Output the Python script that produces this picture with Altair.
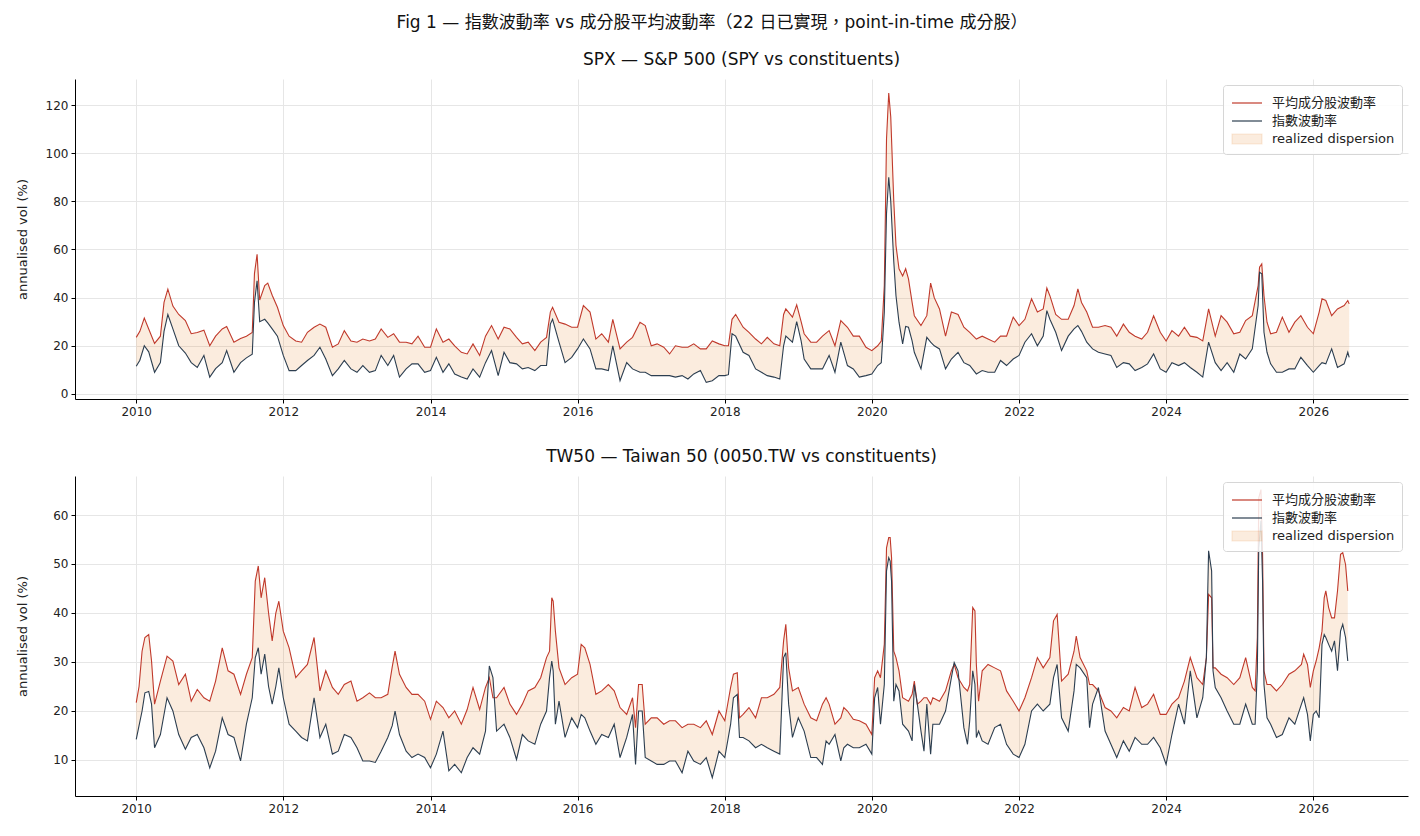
import altair as alt
import pandas as pd

FONT = "'DejaVu Sans', 'Noto Sans CJK TC', sans-serif"
RED = "#c0392b"
NAVY = "#2c3e50"
BAND = "rgba(230,126,34,0.15)"
BAND_EDGE = "rgba(230,126,34,0.22)"

AVG = "平均成分股波動率"
IDX = "指數波動率"
DISP = "realized dispersion"

MAIN_TITLE = "Fig 1 — 指數波動率 vs 成分股平均波動率（22 日已實現，point-in-time 成分股）"
SPX_TITLE = "SPX — S&P 500 (SPY vs constituents)"
TW_TITLE = "TW50 — Taiwan 50 (0050.TW vs constituents)"
Y_TITLE = "annualised vol (%)"

# ---------------- SPX (decimal year, avg constituent vol, index vol) ----------------
spx_t = (
    [2010.00, 2010.05, 2010.11, 2010.17, 2010.25, 2010.33, 2010.38, 2010.43, 2010.50, 2010.58, 2010.67, 2010.75, 2010.83, 2010.92]
    + [2011.00, 2011.08, 2011.17, 2011.23, 2011.33, 2011.42, 2011.50, 2011.58, 2011.61, 2011.645, 2011.68, 2011.75, 2011.79, 2011.85, 2011.92]
    + [2012.00, 2012.08, 2012.17, 2012.25, 2012.33, 2012.42, 2012.50, 2012.58, 2012.67, 2012.75, 2012.83, 2012.92]
    + [2013.00, 2013.08, 2013.17, 2013.25, 2013.33, 2013.42, 2013.50, 2013.58, 2013.67, 2013.75, 2013.83, 2013.92]
    + [2014.00, 2014.08, 2014.17, 2014.25, 2014.33, 2014.42, 2014.50, 2014.58, 2014.67, 2014.75, 2014.83, 2014.92]
    + [2015.00, 2015.08, 2015.17, 2015.25, 2015.33, 2015.42, 2015.50, 2015.58, 2015.63, 2015.66, 2015.75, 2015.83, 2015.92]
    + [2016.00, 2016.08, 2016.17, 2016.25, 2016.33, 2016.42, 2016.48, 2016.58, 2016.67, 2016.75, 2016.85, 2016.92]
    + [2017.00, 2017.08, 2017.17, 2017.25, 2017.33, 2017.42, 2017.50, 2017.58, 2017.67, 2017.75, 2017.83, 2017.92]
    + [2018.00, 2018.05, 2018.10, 2018.15, 2018.25, 2018.33, 2018.42, 2018.50, 2018.58, 2018.67, 2018.75, 2018.80, 2018.83, 2018.92, 2018.98]
    + [2019.04, 2019.08, 2019.17, 2019.25, 2019.33, 2019.42, 2019.50, 2019.58, 2019.67, 2019.75, 2019.83, 2019.92]
    + [2020.00, 2020.08, 2020.13, 2020.17, 2020.20, 2020.23, 2020.26, 2020.30, 2020.33, 2020.37, 2020.42, 2020.46, 2020.50, 2020.55, 2020.58, 2020.67, 2020.75, 2020.80, 2020.85, 2020.92]
    + [2021.00, 2021.08, 2021.17, 2021.25, 2021.33, 2021.42, 2021.50, 2021.58, 2021.67, 2021.75, 2021.83, 2021.92]
    + [2022.00, 2022.08, 2022.17, 2022.25, 2022.33, 2022.38, 2022.42, 2022.50, 2022.58, 2022.67, 2022.75, 2022.80, 2022.85, 2022.92]
    + [2023.00, 2023.08, 2023.17, 2023.25, 2023.33, 2023.42, 2023.50, 2023.58, 2023.67, 2023.75, 2023.83, 2023.92]
    + [2024.00, 2024.08, 2024.17, 2024.25, 2024.33, 2024.42, 2024.50, 2024.58, 2024.67, 2024.75, 2024.83, 2024.92]
    + [2025.00, 2025.08, 2025.17, 2025.25, 2025.27, 2025.30, 2025.33, 2025.37, 2025.42, 2025.50, 2025.58, 2025.67, 2025.75, 2025.83, 2025.92]
    + [2026.00, 2026.08, 2026.12, 2026.17, 2026.25, 2026.33, 2026.42, 2026.47, 2026.49]
)
spx_avg = (
    [23.5, 26.0, 31.5, 27.0, 21.0, 24.0, 38.0, 43.5, 36.5, 33.0, 30.5, 25.0, 25.5, 26.5]
    + [20.0, 24.0, 27.0, 28.0, 21.5, 23.0, 24.0, 25.5, 50.0, 58.0, 39.0, 45.0, 46.0, 41.0, 36.0]
    + [28.4, 24.0, 22.0, 21.5, 25.6, 27.7, 29.0, 27.7, 19.4, 20.8, 26.3, 22.0]
    + [21.5, 22.8, 22.0, 22.8, 27.0, 23.5, 25.0, 21.5, 21.5, 20.8, 24.0, 19.4]
    + [19.4, 27.0, 21.5, 22.8, 20.0, 17.3, 16.6, 20.8, 16.0, 24.0, 28.4, 22.8]
    + [27.7, 27.0, 23.5, 20.8, 21.5, 18.0, 21.5, 23.5, 34.0, 36.0, 29.8, 29.0, 27.7]
    + [27.7, 36.7, 34.0, 22.8, 25.0, 21.5, 31.0, 18.7, 21.5, 23.5, 29.8, 28.4]
    + [20.0, 20.8, 19.4, 16.6, 20.0, 19.4, 19.4, 20.8, 18.7, 18.7, 22.0, 20.8]
    + [20.0, 20.0, 31.0, 33.0, 27.7, 25.6, 22.8, 20.8, 23.5, 20.8, 20.0, 33.0, 35.3, 31.9, 37.0]
    + [30.0, 25.0, 21.5, 21.5, 24.0, 26.3, 20.0, 30.5, 27.7, 24.0, 24.0, 19.4]
    + [18.0, 20.0, 22.0, 45.0, 106.0, 125.0, 115.0, 80.0, 61.6, 52.0, 49.0, 52.0, 47.8, 38.0, 32.5, 28.4, 32.5, 46.0, 40.0, 35.3]
    + [24.0, 34.0, 33.0, 27.7, 25.6, 22.8, 24.0, 22.8, 21.5, 24.0, 24.0, 31.9]
    + [28.4, 31.0, 39.5, 34.0, 35.3, 44.0, 40.8, 33.0, 31.0, 31.0, 36.7, 43.6, 38.0, 34.0]
    + [27.7, 27.7, 28.4, 27.7, 24.0, 29.0, 25.6, 24.0, 22.8, 25.6, 32.5, 25.6]
    + [22.0, 26.3, 24.0, 27.7, 24.0, 23.5, 22.0, 35.3, 24.0, 32.5, 29.8, 25.0]
    + [25.6, 30.5, 32.5, 45.0, 52.6, 54.0, 40.8, 29.8, 25.0, 25.6, 31.9, 25.6, 29.8, 32.5, 27.7]
    + [25.0, 34.0, 39.5, 38.8, 32.5, 35.3, 36.7, 38.8, 37.4]
)
spx_idx = (
    [11.5, 14.0, 20.0, 17.5, 9.0, 13.0, 26.0, 33.0, 27.0, 20.0, 17.0, 13.0, 11.0, 16.0]
    + [7.0, 10.5, 13.0, 18.0, 9.0, 13.0, 15.0, 16.5, 38.0, 47.0, 30.0, 31.0, 29.5, 27.0, 24.0]
    + [16.0, 9.7, 9.7, 11.8, 13.9, 16.0, 19.4, 14.5, 7.6, 10.4, 13.9, 10.4]
    + [9.0, 11.8, 9.0, 9.7, 16.0, 11.8, 16.0, 7.0, 10.4, 12.5, 12.5, 9.0]
    + [9.7, 15.2, 9.0, 12.5, 8.3, 7.0, 6.2, 10.4, 7.0, 13.0, 18.0, 7.6]
    + [17.3, 13.0, 12.5, 10.4, 11.0, 9.7, 11.8, 11.8, 29.0, 31.0, 21.5, 13.0, 15.2]
    + [18.7, 22.8, 18.7, 10.4, 10.4, 9.7, 20.0, 5.5, 13.0, 10.4, 9.0, 9.0]
    + [7.6, 7.6, 7.6, 7.6, 7.0, 7.6, 6.2, 8.3, 9.7, 4.8, 5.5, 7.6]
    + [7.6, 8.0, 25.0, 24.0, 17.3, 16.0, 10.4, 9.0, 7.6, 7.0, 6.2, 20.0, 24.0, 21.5, 30.0]
    + [22.0, 14.5, 10.4, 10.4, 10.4, 16.0, 9.0, 21.5, 11.8, 10.4, 7.0, 7.6]
    + [8.3, 11.8, 13.0, 34.0, 75.0, 90.0, 80.0, 55.0, 40.8, 29.8, 20.8, 28.0, 27.7, 22.0, 17.3, 10.4, 23.5, 21.5, 20.0, 18.7]
    + [10.4, 14.5, 17.3, 13.0, 11.8, 8.3, 9.7, 9.0, 9.0, 13.9, 11.8, 14.5]
    + [16.0, 21.5, 25.0, 20.0, 24.0, 34.6, 31.0, 25.6, 18.0, 24.0, 27.0, 28.4, 26.0, 21.5]
    + [18.7, 17.3, 16.6, 16.0, 11.0, 13.0, 12.5, 9.7, 11.0, 12.5, 16.6, 10.4]
    + [9.0, 13.0, 11.8, 13.0, 11.0, 9.0, 7.0, 21.5, 13.0, 9.7, 13.0, 9.0]
    + [16.6, 14.5, 18.7, 36.7, 50.5, 49.9, 25.6, 17.3, 12.5, 9.0, 9.0, 10.4, 10.4, 15.2, 11.8]
    + [9.0, 11.8, 13.0, 12.5, 18.7, 11.0, 12.5, 17.3, 15.2]
)

# ---------------- TW50 (decimal year, avg constituent vol, index vol) ----------------
tw_t = (
    [2010.00, 2010.04, 2010.08, 2010.12, 2010.17, 2010.21, 2010.25, 2010.33, 2010.42, 2010.50, 2010.58, 2010.67, 2010.75, 2010.83, 2010.92]
    + [2011.00, 2011.08, 2011.17, 2011.25, 2011.33, 2011.42, 2011.50, 2011.58, 2011.62, 2011.66, 2011.70, 2011.75, 2011.80, 2011.85, 2011.90, 2011.94]
    + [2012.00, 2012.08, 2012.17, 2012.25, 2012.33, 2012.42, 2012.50, 2012.58, 2012.67, 2012.75, 2012.83, 2012.92]
    + [2013.00, 2013.08, 2013.17, 2013.25, 2013.33, 2013.42, 2013.48, 2013.52, 2013.58, 2013.67, 2013.75, 2013.83, 2013.92]
    + [2014.00, 2014.08, 2014.17, 2014.25, 2014.33, 2014.42, 2014.50, 2014.58, 2014.67, 2014.75, 2014.80, 2014.85, 2014.90]
    + [2015.00, 2015.08, 2015.17, 2015.25, 2015.33, 2015.42, 2015.50, 2015.58, 2015.62, 2015.65, 2015.67, 2015.70, 2015.75, 2015.83, 2015.92]
    + [2016.00, 2016.05, 2016.10, 2016.17, 2016.25, 2016.33, 2016.42, 2016.50, 2016.58, 2016.67, 2016.75, 2016.79, 2016.83, 2016.88, 2016.92]
    + [2017.00, 2017.08, 2017.17, 2017.25, 2017.33, 2017.42, 2017.50, 2017.58, 2017.67, 2017.75, 2017.83, 2017.92]
    + [2018.00, 2018.08, 2018.12, 2018.17, 2018.20, 2018.25, 2018.33, 2018.42, 2018.50, 2018.58, 2018.67, 2018.75, 2018.80, 2018.83, 2018.87, 2018.92]
    + [2019.00, 2019.08, 2019.17, 2019.25, 2019.33, 2019.38, 2019.42, 2019.50, 2019.58, 2019.62, 2019.67, 2019.75, 2019.83, 2019.92]
    + [2020.00, 2020.04, 2020.08, 2020.12, 2020.17, 2020.20, 2020.23, 2020.25, 2020.27, 2020.30, 2020.33, 2020.37, 2020.42, 2020.50, 2020.55, 2020.58, 2020.62, 2020.67, 2020.71, 2020.75, 2020.80, 2020.83, 2020.92]
    + [2021.00, 2021.08, 2021.12, 2021.17, 2021.25, 2021.30, 2021.33, 2021.37, 2021.40, 2021.42, 2021.45, 2021.50, 2021.58, 2021.67, 2021.75, 2021.83, 2021.92]
    + [2022.00, 2022.08, 2022.17, 2022.25, 2022.33, 2022.42, 2022.47, 2022.52, 2022.58, 2022.67, 2022.75, 2022.78, 2022.83, 2022.92, 2022.96]
    + [2023.00, 2023.08, 2023.17, 2023.25, 2023.33, 2023.42, 2023.50, 2023.58, 2023.67, 2023.75, 2023.83, 2023.92]
    + [2024.00, 2024.08, 2024.17, 2024.25, 2024.33, 2024.42, 2024.50, 2024.55, 2024.58, 2024.62, 2024.64, 2024.67, 2024.75, 2024.83, 2024.92]
    + [2025.00, 2025.08, 2025.17, 2025.21, 2025.24, 2025.26, 2025.29, 2025.31, 2025.33, 2025.37, 2025.42, 2025.50, 2025.58, 2025.67, 2025.75, 2025.84, 2025.87, 2025.92, 2025.96]
    + [2026.00, 2026.04, 2026.08, 2026.12, 2026.15, 2026.17, 2026.21, 2026.25, 2026.29, 2026.33, 2026.37, 2026.40, 2026.44, 2026.47]
)
tw_avg = (
    [21.7, 25.0, 32.2, 35.0, 35.6, 30.2, 21.4, 26.1, 31.2, 30.2, 25.4, 27.5, 22.0, 24.4, 22.7]
    + [22.0, 26.1, 32.9, 28.2, 27.5, 23.4, 27.5, 30.9, 46.5, 49.6, 43.1, 47.2, 40.0, 34.3, 40.0, 42.4]
    + [36.3, 32.9, 26.8, 28.2, 29.5, 35.0, 24.1, 28.2, 24.8, 23.4, 25.4, 26.1]
    + [22.0, 22.7, 23.7, 22.7, 22.7, 23.4, 29.0, 32.2, 27.5, 24.8, 23.4, 23.4, 22.0]
    + [18.3, 22.0, 20.7, 18.6, 20.0, 17.3, 20.3, 24.8, 20.3, 24.8, 26.8, 22.7, 22.7]
    + [24.8, 21.4, 19.3, 21.4, 24.1, 24.8, 26.8, 30.9, 32.2, 43.1, 42.4, 36.3, 28.8, 25.4, 26.8]
    + [27.5, 33.6, 32.9, 29.5, 23.4, 24.1, 25.4, 24.1, 20.7, 19.3, 22.7, 16.6, 25.4, 25.4, 17.3]
    + [18.6, 18.6, 17.3, 18.0, 18.0, 16.6, 17.3, 17.3, 16.6, 18.0, 15.2, 20.0]
    + [18.0, 24.8, 27.5, 27.8, 18.6, 19.3, 20.7, 18.6, 22.7, 22.7, 23.4, 24.8, 34.3, 37.7, 28.8, 24.1]
    + [24.8, 21.4, 18.6, 18.0, 21.4, 22.7, 21.4, 17.3, 18.6, 20.7, 20.0, 18.3, 18.0, 17.3]
    + [15.2, 26.8, 28.2, 26.8, 33.6, 53.3, 55.4, 55.4, 51.3, 32.2, 30.9, 28.2, 22.7, 22.0, 23.4, 26.1, 21.4, 22.0, 22.7, 22.7, 21.4, 22.7, 22.0]
    + [24.1, 28.2, 29.5, 26.8, 24.8, 24.1, 25.4, 41.1, 40.4, 29.5, 22.0, 28.2, 29.5, 28.8, 28.2, 24.1, 22.0]
    + [20.0, 22.7, 26.8, 30.9, 28.8, 30.9, 38.4, 39.7, 26.1, 27.5, 32.2, 35.3, 30.9, 28.2, 25.4]
    + [25.4, 24.1, 20.7, 20.0, 18.6, 20.7, 20.0, 24.8, 20.7, 21.4, 23.4, 19.3]
    + [19.3, 21.4, 22.7, 26.1, 30.9, 26.8, 25.4, 30.9, 43.8, 43.1, 28.8, 28.8, 27.5, 26.8, 25.4]
    + [26.8, 30.9, 24.8, 24.1, 35.0, 63.5, 65.2, 52.0, 28.2, 25.4, 25.4, 24.1, 25.4, 27.5, 28.2, 29.5, 31.6, 29.5, 24.8]
    + [28.2, 30.2, 32.9, 36.3, 43.1, 44.5, 41.1, 39.0, 39.0, 44.5, 52.0, 52.3, 49.9, 44.5]
)
tw_idx = (
    [14.2, 17.0, 20.0, 23.7, 24.0, 21.4, 12.5, 15.2, 22.7, 20.0, 15.2, 12.2, 14.6, 15.2, 12.5]
    + [8.4, 11.8, 18.6, 15.2, 14.6, 9.8, 17.3, 22.7, 30.9, 32.9, 27.5, 31.6, 25.0, 21.4, 25.0, 28.8]
    + [22.7, 17.3, 15.9, 14.6, 13.9, 22.7, 14.6, 17.3, 11.2, 11.8, 15.2, 14.6]
    + [12.5, 9.8, 9.8, 9.5, 11.8, 14.6, 17.0, 20.0, 15.2, 11.8, 10.5, 11.2, 10.5]
    + [8.4, 11.2, 15.9, 7.8, 9.1, 7.4, 10.5, 12.5, 11.2, 15.9, 29.2, 26.8, 15.9]
    + [17.3, 14.6, 10.1, 15.2, 13.9, 13.2, 17.3, 20.0, 26.8, 30.2, 28.2, 17.3, 22.0, 14.6, 18.6]
    + [16.6, 19.3, 18.6, 15.9, 13.2, 15.2, 14.6, 17.3, 10.5, 14.6, 19.3, 9.1, 20.0, 20.0, 10.5]
    + [9.8, 9.1, 9.1, 9.8, 9.8, 7.4, 11.8, 9.8, 9.1, 10.5, 6.4, 11.8]
    + [10.5, 17.3, 22.7, 23.4, 14.6, 14.6, 13.9, 12.5, 13.2, 12.5, 11.8, 11.2, 30.9, 31.9, 21.4, 14.6]
    + [18.6, 15.9, 10.5, 10.5, 9.1, 13.9, 13.2, 15.2, 9.8, 12.5, 13.2, 12.5, 12.5, 13.2]
    + [11.2, 22.7, 24.8, 17.3, 25.4, 48.6, 51.3, 50.6, 46.5, 22.0, 25.4, 24.1, 17.3, 15.9, 13.9, 25.4, 21.4, 15.9, 11.8, 21.4, 11.2, 17.3, 17.3]
    + [20.0, 26.8, 29.9, 28.2, 16.6, 13.2, 18.0, 28.2, 25.4, 14.6, 15.9, 13.9, 13.2, 16.6, 17.3, 13.2, 11.2]
    + [10.5, 13.2, 20.0, 21.4, 20.0, 21.4, 26.8, 29.5, 18.6, 15.9, 24.1, 29.5, 28.8, 26.8, 16.6]
    + [21.4, 24.8, 15.9, 13.2, 10.5, 13.9, 11.8, 14.6, 13.2, 13.2, 14.6, 12.5]
    + [9.1, 15.2, 21.4, 17.3, 28.2, 18.6, 22.7, 30.9, 52.7, 48.6, 28.2, 24.8, 22.7, 20.0, 17.3]
    + [17.3, 21.4, 17.3, 17.3, 28.2, 53.3, 58.8, 46.5, 25.4, 18.6, 17.3, 14.6, 15.2, 18.6, 17.3, 21.4, 22.7, 19.3, 13.9]
    + [19.3, 20.0, 18.6, 33.6, 35.6, 35.0, 33.6, 32.2, 34.3, 28.2, 36.3, 37.7, 35.0, 30.2]
)

SPX_YDOMAIN = [-2.1, 130.8]
SPX_YTICKS = [0, 20, 40, 60, 80, 100, 120]
TW_YDOMAIN = [2.65, 67.96]
TW_YTICKS = [10, 20, 30, 40, 50, 60]
YEAR_TICKS = list(range(2010, 2027, 2))


def to_iso(t):
    y = int(t)
    ts = pd.Timestamp(year=y, month=1, day=1) + pd.Timedelta(days=(t - y) * 365.25)
    return ts.strftime("%Y-%m-%d")


sym_type = f"datum.value === '{DISP}' ? 'M-1.5,-0.5H1.5V0.5H-1.5Z' : 'M-1.5,0H1.5'"
sym_stroke = (
    f"datum.value === '{AVG}' ? '{RED}' : (datum.value === '{IDX}' ? '{NAVY}' : '{BAND_EDGE}')"
)
sym_fill = f"datum.value === '{DISP}' ? '{BAND}' : 'transparent'"

legend = alt.Legend(
    title=None,
    orient="top-right",
    offset=6,
    padding=7,
    fillColor="rgba(255,255,255,0.85)",
    strokeColor="#d6d6d6",
    cornerRadius=3,
    labelFont=FONT,
    labelFontSize=13,
    labelColor="#222222",
    labelOffset=14,
    symbolSize=400,
    symbolOffset=6,
    rowPadding=0,
    symbolOpacity=1,
    symbolStrokeWidth=1.2,
    symbolType=alt.ExprRef(expr=sym_type),
    symbolStrokeColor=alt.ExprRef(expr=sym_stroke),
    symbolFillColor=alt.ExprRef(expr=sym_fill),
)

color_scale = alt.Scale(domain=[AVG, IDX, DISP], range=[RED, NAVY, BAND])
x_scale = alt.Scale(domain=[alt.DateTime(year=2009, month=3, date=3), alt.DateTime(year=2027, month=4, date=16)])
x_axis = alt.Axis(values=[alt.DateTime(year=y, month=1, date=1) for y in YEAR_TICKS], format="%Y", title=None)


def panel(t, avg, idx, title, ydom, yticks):
    assert len(t) == len(avg) == len(idx)
    dates = [to_iso(v) for v in t]
    band = pd.DataFrame({"date": dates, "hi": avg, "lo": idx, "series": DISP})
    red = pd.DataFrame({"date": dates, "vol": avg, "series": AVG})
    navy = pd.DataFrame({"date": dates, "vol": idx, "series": IDX})
    x = alt.X("date:T", scale=x_scale, axis=x_axis)
    ysc = alt.Scale(domain=ydom, nice=False, zero=False)
    yax = alt.Axis(values=yticks, title=Y_TITLE)
    color = alt.Color("series:N", scale=color_scale, legend=legend)
    area = alt.Chart(band).mark_area().encode(
        x=x, y=alt.Y("hi:Q", scale=ysc, axis=yax), y2="lo:Q", color=color
    )
    l1 = alt.Chart(red).mark_line(strokeWidth=1.1).encode(
        x=x, y=alt.Y("vol:Q", scale=ysc, axis=yax), color=color
    )
    l2 = alt.Chart(navy).mark_line(strokeWidth=1.1).encode(
        x=x, y=alt.Y("vol:Q", scale=ysc, axis=yax), color=color
    )
    return alt.layer(area, l1, l2).properties(
        width=1333,
        height=320,
        title=alt.TitleParams(title, frame="group", fontSize=17, offset=10),
    )


top = panel(spx_t, spx_avg, spx_idx, SPX_TITLE, SPX_YDOMAIN, SPX_YTICKS)
bottom = panel(tw_t, tw_avg, tw_idx, TW_TITLE, TW_YDOMAIN, TW_YTICKS)

chart = (
    alt.vconcat(top, bottom, spacing=19)
    .resolve_scale(color="independent", y="independent")
    .resolve_legend(color="independent")
    .properties(
        title=alt.TitleParams(MAIN_TITLE, anchor="middle", fontSize=17, offset=19),
        padding={"left": 16, "top": 14, "right": 12, "bottom": 8},
    )
    .configure_axis(
        labelFont=FONT,
        labelFontSize=12,
        labelColor="#222222",
        titleFont=FONT,
        titleFontSize=13,
        titleFontWeight="normal",
        titleColor="#222222",
        titlePadding=16,
        domainColor="#000000",
        domainWidth=1,
        tickColor="#000000",
        tickSize=4,
        tickWidth=1,
        labelPadding=3,
        grid=True,
        gridColor="#e6e6e6",
        gridWidth=1,
        minExtent=30,
    )
    .configure_view(strokeOpacity=0)
    .configure_title(font=FONT, fontWeight="normal", color="#111111")
)

chart.save("out.html", embed_options={"renderer": "svg", "actions": False})
